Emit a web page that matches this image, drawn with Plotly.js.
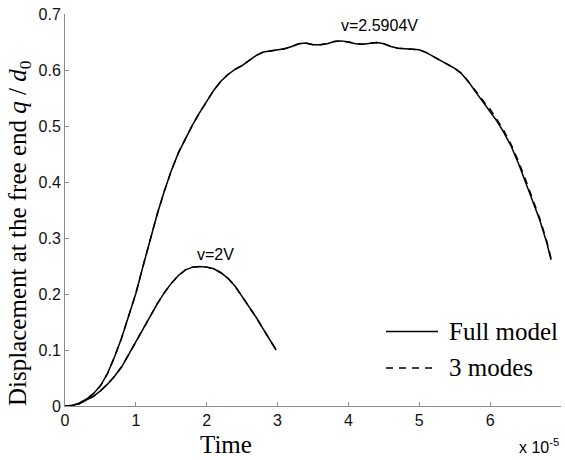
<!DOCTYPE html>
<html>
<head>
<meta charset="utf-8">
<script src="https://cdn.plot.ly/plotly-3.0.1.min.js"></script>
<style>html,body{margin:0;padding:0;background:#fff;}#chart{width:565px;height:460px;}</style>
</head>
<body>
<div id="chart"></div>
<script>
// Time (x 10^-5) and displacement q/d0
const timeHigh = [0, 0.1, 0.2, 0.3, 0.4, 0.5, 0.6, 0.7, 0.8, 0.9, 1.0, 1.1, 1.2, 1.3, 1.4, 1.5, 1.6, 1.7, 1.8, 1.9, 2.0, 2.1, 2.2, 2.3, 2.4, 2.5, 2.6, 2.7, 2.8, 2.9, 3.0, 3.1, 3.2, 3.3, 3.4, 3.5, 3.6, 3.7, 3.8, 3.9, 4.0, 4.1, 4.2, 4.3, 4.4, 4.5, 4.6, 4.7, 4.8, 4.9, 5.0, 5.1, 5.2, 5.3, 5.4, 5.5, 5.6, 5.7, 5.8, 5.9, 6.0, 6.1, 6.2, 6.3, 6.4, 6.5, 6.6, 6.7, 6.8, 6.86];
const fullHigh = [0, 0.001, 0.005, 0.012, 0.022, 0.036, 0.058, 0.088, 0.122, 0.160, 0.201, 0.249, 0.297, 0.342, 0.383, 0.420, 0.452, 0.478, 0.502, 0.524, 0.545, 0.564, 0.580, 0.592, 0.601, 0.608, 0.617, 0.626, 0.632, 0.634, 0.635, 0.638, 0.642, 0.647, 0.648, 0.645, 0.645, 0.647, 0.651, 0.652, 0.650, 0.647, 0.646, 0.648, 0.649, 0.647, 0.642, 0.639, 0.638, 0.638, 0.636, 0.631, 0.624, 0.616, 0.609, 0.603, 0.593, 0.578, 0.560, 0.543, 0.527, 0.508, 0.487, 0.463, 0.433, 0.400, 0.367, 0.332, 0.291, 0.261];
const modesHigh = [0, 0.001, 0.005, 0.012, 0.022, 0.036, 0.058, 0.088, 0.122, 0.160, 0.201, 0.249, 0.297, 0.342, 0.383, 0.420, 0.452, 0.478, 0.502, 0.524, 0.545, 0.564, 0.580, 0.592, 0.601, 0.608, 0.617, 0.626, 0.632, 0.634, 0.635, 0.638, 0.642, 0.647, 0.648, 0.645, 0.645, 0.647, 0.651, 0.652, 0.650, 0.647, 0.646, 0.648, 0.649, 0.647, 0.642, 0.639, 0.638, 0.638, 0.636, 0.631, 0.624, 0.616, 0.609, 0.603, 0.594, 0.579, 0.562, 0.545, 0.530, 0.511, 0.490, 0.466, 0.437, 0.404, 0.370, 0.335, 0.294, 0.263];

const timeLow = [0, 0.1, 0.2, 0.3, 0.4, 0.5, 0.6, 0.7, 0.8, 0.9, 1.0, 1.1, 1.2, 1.3, 1.4, 1.5, 1.6, 1.7, 1.8, 1.9, 2.0, 2.1, 2.2, 2.3, 2.4, 2.5, 2.6, 2.7, 2.8, 2.9, 2.98];
const fullLow = [0, 0.001, 0.004, 0.010, 0.017, 0.027, 0.039, 0.053, 0.070, 0.092, 0.115, 0.138, 0.160, 0.182, 0.202, 0.219, 0.233, 0.243, 0.248, 0.249, 0.248, 0.245, 0.238, 0.228, 0.214, 0.196, 0.177, 0.158, 0.137, 0.116, 0.100];
const modesLow = [0, 0.001, 0.004, 0.010, 0.017, 0.027, 0.039, 0.053, 0.070, 0.092, 0.115, 0.138, 0.160, 0.182, 0.202, 0.219, 0.233, 0.243, 0.248, 0.249, 0.248, 0.245, 0.238, 0.228, 0.214, 0.196, 0.177, 0.158, 0.137, 0.116, 0.100];

const seriesNames = ['Full model', '3 modes'];
const curveLabels = ['v=2.5904V', 'v=2V'];
const xTicks = [0, 1, 2, 3, 4, 5, 6, 7];
const yTicks = [0, 0.1, 0.2, 0.3, 0.4, 0.5, 0.6, 0.7];

const solid = {color: '#000', width: 1.5};
const dashed = {color: '#000', width: 1.5, dash: '7px,6px'};

const traces = [
  {x: timeHigh, y: fullHigh, mode: 'lines', name: seriesNames[0], line: solid, showlegend: false},
  {x: timeLow, y: fullLow, mode: 'lines', name: seriesNames[0], line: solid, showlegend: false},
  {x: timeHigh, y: modesHigh, mode: 'lines', name: seriesNames[1], line: dashed, showlegend: false},
  {x: timeLow, y: modesLow, mode: 'lines', name: seriesNames[1], line: dashed, showlegend: false}
];

const axisCommon = {
  showgrid: false, zeroline: false, showline: true, linecolor: '#8c8c8c', linewidth: 1,
  ticks: 'inside', ticklen: 4, tickcolor: '#8c8c8c', tickwidth: 1,
  tickfont: {family: 'Liberation Sans, Arial, sans-serif', size: 16, color: '#111'}
};

const serif = 'Liberation Serif, Times New Roman, serif';
const sans = 'Liberation Sans, Arial, sans-serif';

// legend drawn in paper coordinates (key samples + labels)
const legendRows = [
  {label: seriesNames[0], line: solid, y: 0.190},
  {label: seriesNames[1], line: dashed, y: 0.097}
];
const legendShapes = legendRows.map(r => ({
  type: 'line', xref: 'paper', yref: 'paper', x0: 0.6472, x1: 0.752, y0: r.y, y1: r.y, line: r.line
}));
const legendTexts = legendRows.map(r => ({
  x: 0.770, y: r.y, xref: 'paper', yref: 'paper', xanchor: 'left', yanchor: 'middle', showarrow: false,
  text: r.label, font: {family: serif, size: 25, color: '#000'}
}));

const layout = {
  width: 565, height: 460,
  margin: {l: 65, r: 4, t: 14, b: 54},
  paper_bgcolor: '#fff', plot_bgcolor: '#fff',
  xaxis: Object.assign({}, axisCommon, {range: [0, 7], tickvals: xTicks, ticktext: xTicks.map(String)}),
  yaxis: Object.assign({}, axisCommon, {range: [0, 0.7], tickvals: yTicks, ticktext: yTicks.map(v => v === 0 ? '0' : v.toFixed(1))}),
  showlegend: false,
  shapes: legendShapes,
  annotations: [
    {x: 4.44, y: 0.68, xref: 'x', yref: 'y', xanchor: 'center', yanchor: 'middle', text: curveLabels[0], showarrow: false,
     font: {family: sans, size: 16, color: '#000'}},
    {x: 2.12, y: 0.271, xref: 'x', yref: 'y', xanchor: 'center', yanchor: 'middle', text: curveLabels[1], showarrow: false,
     font: {family: sans, size: 16, color: '#000'}},
    {x: 0.325, y: -0.097, xref: 'paper', yref: 'paper', xanchor: 'center', yanchor: 'middle', text: 'Time', showarrow: false,
     font: {family: serif, size: 25, color: '#000'}},
    {x: -0.093, y: 0.441, xref: 'paper', yref: 'paper', xanchor: 'center', yanchor: 'middle', textangle: -90, showarrow: false,
     text: 'Displacement at the free end <i>q</i> / <i>d</i><sub>0</sub>',
     font: {family: serif, size: 25, color: '#000'}},
    {x: 1.0, y: -0.102, xref: 'paper', yref: 'paper', xanchor: 'right', yanchor: 'middle', showarrow: false,
     text: 'x 10<sup>-5</sup>',
     font: {family: sans, size: 16, color: '#000'}}
  ].concat(legendTexts)
};

Plotly.newPlot('chart', traces, layout, {displayModeBar: false, staticPlot: true});
</script>
</body>
</html>
